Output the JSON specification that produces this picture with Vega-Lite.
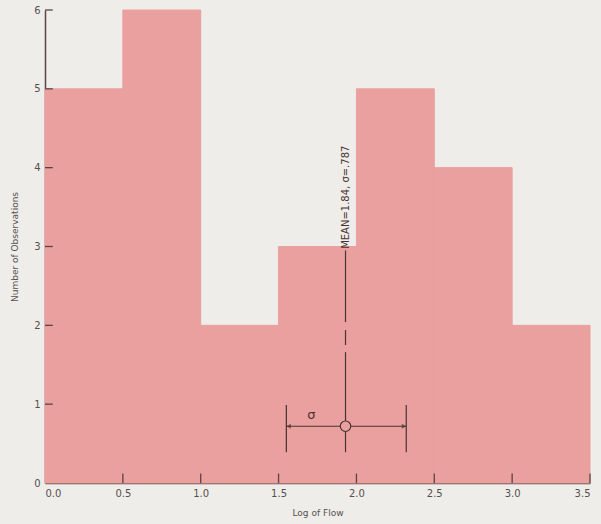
{
  "$schema": "https://vega.github.io/schema/vega-lite/v6.json",
  "width": 545,
  "height": 473,
  "autosize": "none",
  "padding": {"left": 45, "top": 10, "right": 11, "bottom": 41},
  "background": "#efede9",
  "config": {
    "view": {"stroke": null},
    "font": "DejaVu Sans",
    "axis": {
      "domainColor": "#5a4444",
      "domainWidth": 1.5,
      "ticks": false,
      "grid": false,
      "zindex": 1,
      "labelColor": "#555050",
      "labelFont": "DejaVu Sans",
      "labelFontSize": 10,
      "titleColor": "#555050",
      "titleFont": "DejaVu Sans",
      "titleFontSize": 9,
      "titleFontWeight": "normal"
    }
  },
  "datasets": {
    "bars": [
      {"lo": 0.0, "hi": 0.5, "count": 5},
      {"lo": 0.5, "hi": 1.0, "count": 6},
      {"lo": 1.0, "hi": 1.5, "count": 2},
      {"lo": 1.5, "hi": 2.0, "count": 3},
      {"lo": 2.0, "hi": 2.5, "count": 5},
      {"lo": 2.5, "hi": 3.0, "count": 4},
      {"lo": 3.0, "hi": 3.5, "count": 2}
    ],
    "yticks": [
      {"y": 1, "x0": 0, "x1": 0.05},
      {"y": 2, "x0": 0, "x1": 0.05},
      {"y": 3, "x0": 0, "x1": 0.05},
      {"y": 4, "x0": 0, "x1": 0.05},
      {"y": 5, "x0": 0, "x1": 0.05},
      {"y": 6, "x0": 0, "x1": 0.05}
    ],
    "xticks": [
      {"x": 0.5, "y0": 0, "y1": 0.12},
      {"x": 1.0, "y0": 0, "y1": 0.12},
      {"x": 1.5, "y0": 0, "y1": 0.12},
      {"x": 2.0, "y0": 0, "y1": 0.12},
      {"x": 2.5, "y0": 0, "y1": 0.12},
      {"x": 3.0, "y0": 0, "y1": 0.12},
      {"x": 3.5, "y0": 0, "y1": 0.12}
    ],
    "vsegs": [
      {"x": 1.93, "y0": 2.04, "y1": 2.95},
      {"x": 1.93, "y0": 1.75, "y1": 1.94},
      {"x": 1.93, "y0": 0.39, "y1": 1.66},
      {"x": 1.55, "y0": 0.39, "y1": 0.99},
      {"x": 2.32, "y0": 0.39, "y1": 0.99}
    ],
    "hseg": [{"x0": 1.55, "x1": 2.32, "y": 0.72}],
    "meanpt": [{"x": 1.93, "y": 0.72}],
    "leftarrow": [{"x": 1.565, "y": 0.72}],
    "rightarrow": [{"x": 2.305, "y": 0.72}],
    "sigmalabel": [{"x": 1.71, "y": 0.86, "label": "σ"}],
    "meanlabel": [{"x": 1.93, "y": 2.97, "label": "MEAN=1.84, σ=.787"}]
  },
  "layer": [
    {
      "data": {"name": "bars"},
      "mark": {"type": "rect", "color": "#e9a09e", "stroke": "#e9a09e", "strokeWidth": 1, "opacity": 1},
      "encoding": {
        "x": {
          "field": "lo", "type": "quantitative",
          "scale": {"domain": [0, 3.5], "nice": false, "zero": false},
          "axis": {
            "title": "Log of Flow",
            "values": [0, 0.5, 1, 1.5, 2, 2.5, 3, 3.5],
            "format": ".1f",
            "labelPadding": 5,
            "titlePadding": 10
          }
        },
        "x2": {"field": "hi"},
        "y": {
          "field": "count", "type": "quantitative",
          "scale": {"domain": [0, 6], "nice": false},
          "axis": {
            "title": "Number of Observations",
            "values": [0, 1, 2, 3, 4, 5, 6],
            "format": "d",
            "labelPadding": 5,
            "titlePadding": 14
          }
        },
        "y2": {"datum": 0}
      }
    },
    {
      "data": {"name": "yticks"},
      "mark": {"type": "rule", "color": "#5a4444", "strokeWidth": 1.3},
      "encoding": {
        "x": {"field": "x0", "type": "quantitative"},
        "x2": {"field": "x1"},
        "y": {"field": "y", "type": "quantitative"}
      }
    },
    {
      "data": {"name": "xticks"},
      "mark": {"type": "rule", "color": "#5a4444", "strokeWidth": 1.3},
      "encoding": {
        "x": {"field": "x", "type": "quantitative"},
        "y": {"field": "y0", "type": "quantitative"},
        "y2": {"field": "y1"}
      }
    },
    {
      "data": {"name": "vsegs"},
      "mark": {"type": "rule", "color": "#4a3333", "strokeWidth": 1.2},
      "encoding": {
        "x": {"field": "x", "type": "quantitative"},
        "y": {"field": "y0", "type": "quantitative"},
        "y2": {"field": "y1"}
      }
    },
    {
      "data": {"name": "hseg"},
      "mark": {"type": "rule", "color": "#4a3333", "strokeWidth": 1.2},
      "encoding": {
        "x": {"field": "x0", "type": "quantitative"},
        "x2": {"field": "x1"},
        "y": {"field": "y", "type": "quantitative"}
      }
    },
    {
      "data": {"name": "leftarrow"},
      "mark": {"type": "point", "shape": "triangle-left", "filled": true, "color": "#4a3333", "size": 25},
      "encoding": {
        "x": {"field": "x", "type": "quantitative"},
        "y": {"field": "y", "type": "quantitative"}
      }
    },
    {
      "data": {"name": "rightarrow"},
      "mark": {"type": "point", "shape": "triangle-right", "filled": true, "color": "#4a3333", "size": 25},
      "encoding": {
        "x": {"field": "x", "type": "quantitative"},
        "y": {"field": "y", "type": "quantitative"}
      }
    },
    {
      "data": {"name": "meanpt"},
      "mark": {"type": "point", "shape": "circle", "filled": true, "fill": "#e9a09e", "stroke": "#4a3333", "strokeWidth": 1.2, "size": 110, "opacity": 1},
      "encoding": {
        "x": {"field": "x", "type": "quantitative"},
        "y": {"field": "y", "type": "quantitative"}
      }
    },
    {
      "data": {"name": "sigmalabel"},
      "mark": {"type": "text", "color": "#4a3333", "fontSize": 13, "font": "DejaVu Sans"},
      "encoding": {
        "x": {"field": "x", "type": "quantitative"},
        "y": {"field": "y", "type": "quantitative"},
        "text": {"field": "label"}
      }
    },
    {
      "data": {"name": "meanlabel"},
      "mark": {"type": "text", "color": "#4a3333", "fontSize": 10, "font": "DejaVu Sans", "angle": 270, "align": "left", "baseline": "middle"},
      "encoding": {
        "x": {"field": "x", "type": "quantitative"},
        "y": {"field": "y", "type": "quantitative"},
        "text": {"field": "label"}
      }
    }
  ]
}
